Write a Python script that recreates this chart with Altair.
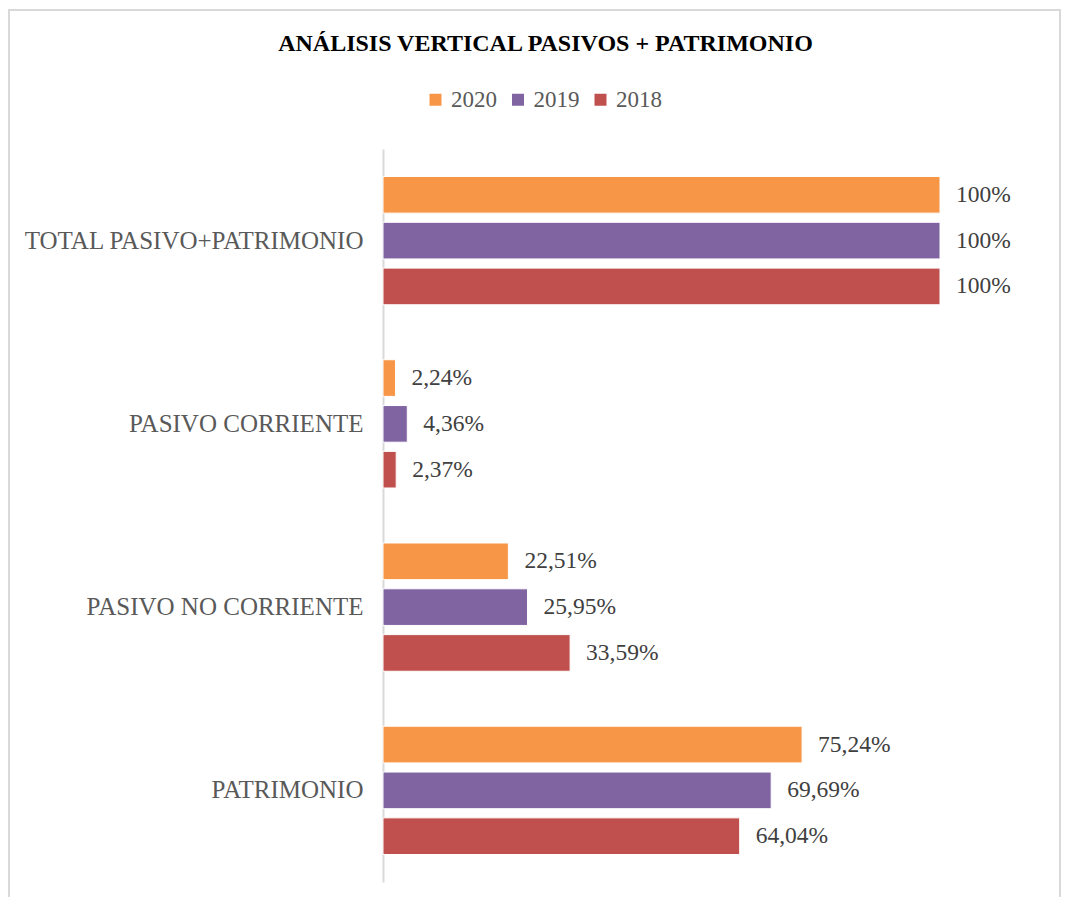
import altair as alt
import pandas as pd

categories = ["TOTAL PASIVO+PATRIMONIO", "PASIVO CORRIENTE", "PASIVO NO CORRIENTE", "PATRIMONIO"]
years = ["2020", "2019", "2018"]
colors = ["#F79646", "#8064A2", "#C0504D"]
values_2020 = [100, 2.24, 22.51, 75.24]
values_2019 = [100, 4.36, 25.95, 69.69]
values_2018 = [100, 2.37, 33.59, 64.04]

def fmt(v):
    if float(v).is_integer():
        return f"{int(v)}%"
    return f"{v:.2f}".replace(".", ",") + "%"

rows = []
for year, vals in zip(years, [values_2020, values_2019, values_2018]):
    for cat, v in zip(categories, vals):
        rows.append({"categoria": cat, "anio": year, "valor": v, "etiqueta": fmt(v)})
df = pd.DataFrame(rows)

FONT = "Liberation Serif"

y_enc = alt.Y("categoria:N", sort=categories, title=None,
              scale=alt.Scale(paddingInner=0, paddingOuter=0),
              axis=alt.Axis(ticks=False, labelPadding=20, labelFont=FONT, labelFontSize=25,
                            labelColor="#595959", domainColor="#D9D9D9", domainWidth=2,
                            labelLimit=500))
yoff_enc = alt.YOffset("anio:N", sort=years,
                       scale=alt.Scale(domain=years, paddingInner=0.2, paddingOuter=0.6))
x_enc = alt.X("valor:Q", axis=None, scale=alt.Scale(domain=[0, 100], nice=False, zero=True))

base = alt.Chart(df)

bars = base.mark_bar(stroke="white", strokeWidth=1).encode(
    y=y_enc, yOffset=yoff_enc, x=x_enc,
    color=alt.Color("anio:N", sort=years,
                    scale=alt.Scale(domain=years, range=colors),
                    legend=alt.Legend(title=None, orient="none", direction="horizontal",
                                      legendX=41, legendY=-61,
                                      symbolType="square", symbolSize=144,
                                      symbolStrokeWidth=0, labelFont=FONT,
                                      labelFontSize=23, labelColor="#595959",
                                      labelOffset=4, columnPadding=9.5)),
)

labels = base.mark_text(align="left", baseline="middle", dx=16, font=FONT,
                        fontSize=23.5, color="#404040").encode(
    y=y_enc, yOffset=yoff_enc, x=x_enc, text="etiqueta:N"
)

border = base.mark_rect(fill=None, stroke="#D9D9D9", strokeWidth=2).encode(
    x=alt.value(-374), x2=alt.value(677), y=alt.value(-139), y2=alt.value(800)
)

chart = alt.layer(border, bars, labels).properties(
    width=557, height=733,
    padding={"left": 375, "top": 141, "right": 121, "bottom": 15},
    autosize=alt.AutoSizeParams(type="none"),
    title=alt.TitleParams("ANÁLISIS VERTICAL PASIVOS + PATRIMONIO", font=FONT,
                          fontSize=24, fontWeight="bold", color="black",
                          anchor="middle", dx=-116, offset=-47),
).configure_view(stroke=None)

chart.save("out.html", embed_options={"renderer": "svg", "actions": False})
